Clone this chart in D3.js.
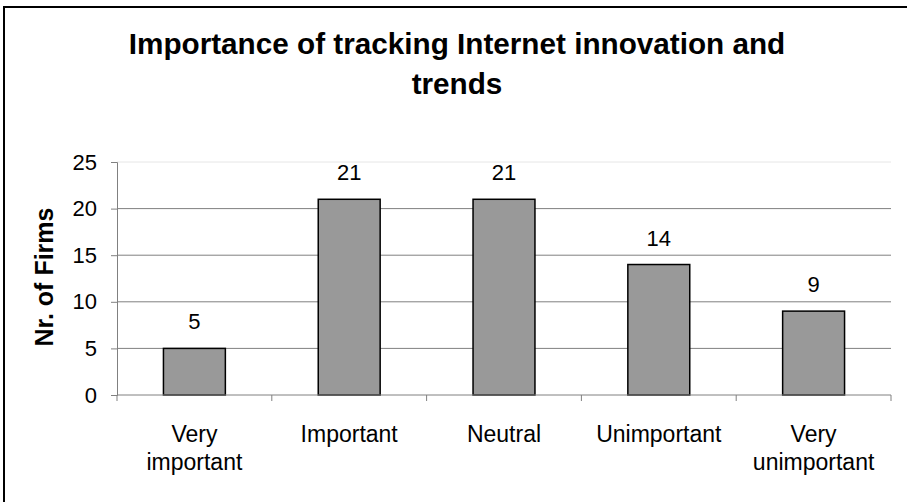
<!DOCTYPE html>
<html lang="en">
<head>
<meta charset="UTF-8">
<script src="https://d3js.org/d3.v7.min.js"></script>
<style>
  body { margin: 0; background: #fff; }
  svg { display: block; font-family: Arial, "Liberation Sans", sans-serif; }
</style>
</head>
<body>
<div id="chart"></div>
<script>
// data
const categories = [["Very", "important"], ["Important"], ["Neutral"], ["Unimportant"], ["Very", "unimportant"]];
const counts = [5, 21, 21, 14, 9];
const yTicks = [0, 5, 10, 15, 20, 25];
const titleLines = ["Importance of tracking Internet innovation and", "trends"];

const width = 907, height = 502;
const plot = { left: 117, right: 891, top: 162, bottom: 395 };

const svg = d3.select("#chart").append("svg")
  .attr("width", width)
  .attr("height", height);

// outer frame (right/bottom edges fall outside the picture)
svg.append("rect")
  .attr("x", 4).attr("y", 7)
  .attr("width", 920).attr("height", 520)
  .attr("fill", "none")
  .attr("stroke", "#000")
  .attr("stroke-width", 2);

// title
svg.append("text")
  .attr("text-anchor", "middle")
  .attr("font-size", "29.7px")
  .attr("font-weight", "bold")
  .selectAll("tspan")
  .data(titleLines)
  .join("tspan")
  .attr("x", 457)
  .attr("y", (d, i) => 54 + i * 40)
  .text(d => d);

const x = d3.scaleBand()
  .domain(d3.range(counts.length))
  .range([plot.left, plot.right])
  .paddingInner(0.6)
  .paddingOuter(0.3);

const y = d3.scaleLinear()
  .domain([0, 25])
  .range([plot.bottom, plot.top]);

// gridlines
svg.append("g")
  .selectAll("line")
  .data(yTicks.filter(t => t > 0))
  .join("line")
  .attr("x1", plot.left).attr("x2", plot.right)
  .attr("y1", d => y(d)).attr("y2", d => y(d))
  .attr("stroke", d => d === 25 ? "#e6e6e6" : "#808080")
  .attr("stroke-width", 1);

// y axis
const yAxis = svg.append("g")
  .attr("transform", `translate(${plot.left},0)`)
  .call(d3.axisLeft(y).tickValues(yTicks).tickSize(6).tickPadding(14));
yAxis.select(".domain").attr("stroke", "#808080");
yAxis.selectAll(".tick line").attr("stroke", "#808080");
yAxis.selectAll(".tick text")
  .attr("font-size", "22px")
  .attr("font-family", "Arial, 'Liberation Sans', sans-serif")
  .attr("fill", "#000");

// bars
svg.append("g")
  .selectAll("rect")
  .data(counts)
  .join("rect")
  .attr("x", (d, i) => x(i))
  .attr("y", d => y(d))
  .attr("width", x.bandwidth())
  .attr("height", d => y(0) - y(d))
  .attr("fill", "#999999")
  .attr("stroke", "#000")
  .attr("stroke-width", 1.5);

// x axis line and category ticks
svg.append("line")
  .attr("x1", plot.left).attr("x2", plot.right)
  .attr("y1", y(0)).attr("y2", y(0))
  .attr("stroke", "#808080");

const boundaries = d3.range(counts.length + 1).map(i => plot.left + i * x.step());
svg.append("g")
  .selectAll("line")
  .data(boundaries)
  .join("line")
  .attr("x1", d => d).attr("x2", d => d)
  .attr("y1", y(0)).attr("y2", y(0) + 6)
  .attr("stroke", "#808080");

// value labels
svg.append("g")
  .selectAll("text")
  .data(counts)
  .join("text")
  .attr("x", (d, i) => x(i) + x.bandwidth() / 2)
  .attr("y", d => y(d) - 19)
  .attr("text-anchor", "middle")
  .attr("font-size", "22px")
  .text(d => d);

// category labels
svg.append("g")
  .selectAll("text")
  .data(categories)
  .join("text")
  .attr("text-anchor", "middle")
  .attr("font-size", "23px")
  .each(function (lines, i) {
    d3.select(this).selectAll("tspan")
      .data(lines)
      .join("tspan")
      .attr("x", x(i) + x.bandwidth() / 2)
      .attr("y", (d, j) => 442 + j * 28)
      .text(d => d);
  });

// y axis title
svg.append("text")
  .attr("transform", "translate(53,277) rotate(-90)")
  .attr("text-anchor", "middle")
  .attr("font-size", "25px")
  .attr("font-weight", "bold")
  .text("Nr. of Firms");
</script>
</body>
</html>
